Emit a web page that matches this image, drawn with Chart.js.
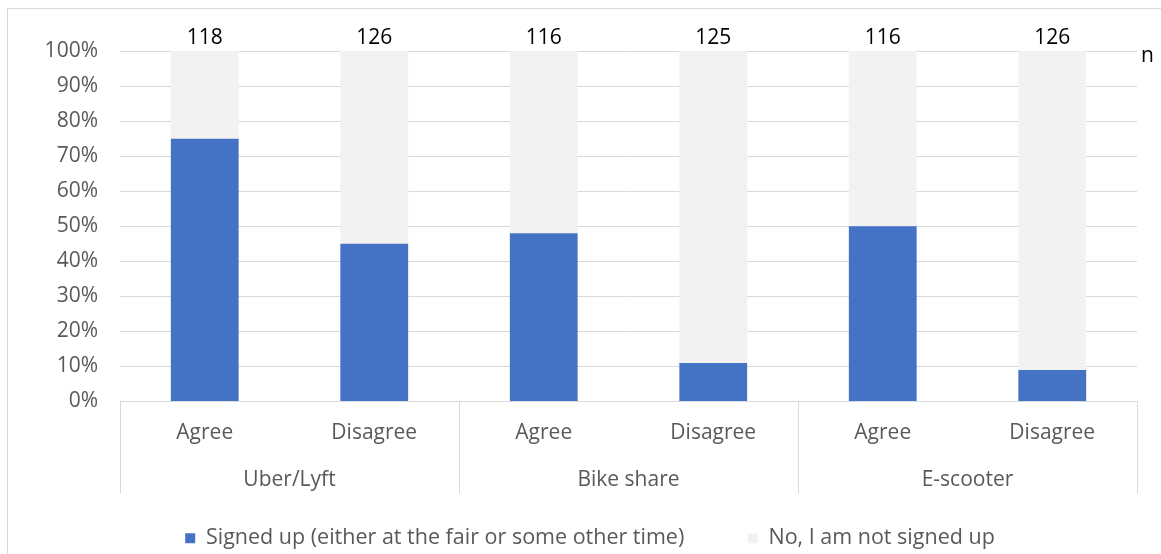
<!DOCTYPE html>
<html>
<head>
<meta charset="utf-8">
<script src="https://cdn.jsdelivr.net/npm/chart.js@4/dist/chart.umd.min.js"></script>
<style>
  html, body { margin: 0; padding: 0; background: #fff; overflow: hidden; }
  #wrap { width: 1161px; height: 554px; position: relative; }
</style>
</head>
<body>
<div id="wrap"><canvas id="chart"></canvas></div>
<script>
// data
var categories = ['Agree', 'Disagree', 'Agree', 'Disagree', 'Agree', 'Disagree'];
var groups = ['Uber/Lyft', 'Bike share', 'E-scooter'];
var signedUp = [75, 45, 48, 11, 50, 9];
var notSigned = [25, 55, 52, 89, 50, 91];
var nCounts = [118, 126, 116, 125, 116, 126];
var seriesNames = ['Signed up (either at the fair or some other time)', 'No, I am not signed up'];

var FONT = "'Open Sans', sans-serif";
var GREY_TEXT = '#595959';
var LINE = '#d9d9d9';

// frame, group separators, n labels
var extras = {
	id: 'extras',
	beforeDraw: function(chart) {
		var ctx = chart.ctx;
		ctx.save();
		ctx.strokeStyle = LINE;
		ctx.lineWidth = 1;
		ctx.strokeRect(7.5, 8.5, 1200, 600);
		ctx.restore();
	},
	afterDraw: function(chart) {
		var ctx = chart.ctx;
		var x = chart.scales.x, y = chart.scales.y, x2 = chart.scales.x2;
		var area = chart.chartArea;
		ctx.save();
		ctx.strokeStyle = LINE;
		ctx.lineWidth = 1;
		var bottom = x2.top + 34;
		for (var j = 0; j <= groups.length; j++) {
			var px;
			if (j == 0) px = area.left;
			else if (j == groups.length) px = area.right;
			else px = (x.getPixelForValue(2 * j - 1) + x.getPixelForValue(2 * j)) / 2;
			px = Math.round(px) + 0.5;
			ctx.beginPath();
			ctx.moveTo(px, area.bottom);
			ctx.lineTo(px, bottom);
			ctx.stroke();
		}
		ctx.fillStyle = '#000';
		ctx.font = '21px ' + FONT;
		ctx.textAlign = 'center';
		ctx.textBaseline = 'middle';
		var top = y.getPixelForValue(100);
		for (var i = 0; i < nCounts.length; i++) {
			ctx.fillText(String(nCounts[i]), x.getPixelForValue(i), top - 13);
		}
		ctx.textAlign = 'left';
		ctx.fillText('n', area.right + 4, top + 5);
		ctx.restore();
	}
};

new Chart(document.getElementById('chart'), {
	type: 'bar',
	data: {
		labels: categories,
		datasets: [{
			label: seriesNames[0],
			data: signedUp,
			backgroundColor: '#4472C4',
			borderWidth: 0,
			barPercentage: 0.4,
			categoryPercentage: 1
		}, {
			label: seriesNames[1],
			data: notSigned,
			backgroundColor: '#F2F2F2',
			borderWidth: 0,
			barPercentage: 0.4,
			categoryPercentage: 1
		}]
	},
	options: {
		responsive: true,
		maintainAspectRatio: false,
		animation: false,
		layout: { padding: { top: 51, right: 24, left: 43, bottom: -5 } },
		scales: {
			x: {
				stacked: true,
				grid: { display: false },
				border: { display: true, color: LINE },
				ticks: { color: GREY_TEXT, font: { family: FONT, size: 21 }, padding: 11, maxRotation: 0 },
				afterFit: function(s) { s.height = 58; }
			},
			x2: {
				type: 'category',
				labels: groups,
				position: 'bottom',
				offset: true,
				grid: { display: false },
				border: { display: false },
				ticks: { color: GREY_TEXT, font: { family: FONT, size: 21 }, padding: 0, maxRotation: 0 },
				afterFit: function(s) { s.height = 66; }
			},
			y: {
				stacked: true,
				min: 0,
				max: 100,
				grid: { color: LINE, drawTicks: false },
				border: { display: false },
				ticks: {
					stepSize: 10,
					padding: 22,
					color: GREY_TEXT,
					font: { family: FONT, size: 21 },
					callback: function(v) { return v + '%'; }
				},
				afterFit: function(s) { s.width = 77; }
			}
		},
		plugins: {
			tooltip: { enabled: false },
			legend: {
				position: 'bottom',
				labels: {
					color: GREY_TEXT,
					font: { family: FONT, size: 21.5, lineHeight: 1 },
					boxWidth: 10,
					boxHeight: 10,
					padding: 2,
					generateLabels: function(chart) {
						var items = Chart.defaults.plugins.legend.labels.generateLabels(chart);
						items[0].text = items[0].text + '           ';
						return items;
					}
				}
			}
		}
	},
	plugins: [extras]
});
</script>
</body>
</html>
